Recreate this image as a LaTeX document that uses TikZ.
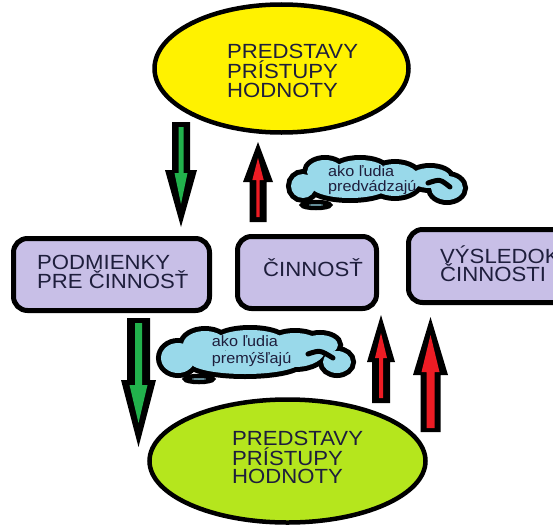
\documentclass[tikz,border=0pt]{standalone}
\usepackage{fontspec}
\setmainfont{Liberation Sans}
\newfontfamily\widesans[FakeStretch=1.08]{Liberation Sans}
\usetikzlibrary{shapes.geometric}

\definecolor{yel}{HTML}{FFF200}
\definecolor{lime}{HTML}{B5E61D}
\definecolor{lav}{HTML}{C8BFE7}
\definecolor{sky}{HTML}{99D9EA}
\definecolor{grn}{HTML}{22B14C}
\definecolor{rd}{HTML}{ED1C24}
\definecolor{ink}{HTML}{1E1E3C}

% block arrow: [style]{centre x}{tail y}{head base y}{tip y}{shaft half width}{head half width}
\newcommand{\barrow}[7][]{%
  \fill[#1] (#2-#6,#3) -- (#2+#6,#3) -- (#2+#6,#4) -- (#2+#7,#4) -- (#2,#5)
    -- (#2-#7,#4) -- (#2-#6,#4) -- cycle;}

\tikzset{
  ideabox/.style={ellipse, draw=black, line width=4.5pt, inner sep=0pt},
  stagebox/.style={rectangle, rounded corners=14pt, draw=black, line width=5pt,
    fill=lav, inner sep=0pt},
  bigtxt/.style={anchor=base west, inner sep=0pt, text height=14pt, text depth=1pt,
    font=\widesans\fontsize{20.5}{20}\selectfont, text=ink},
  smalltxt/.style={anchor=base west, inner sep=0pt, text height=10pt, text depth=2pt,
    font=\widesans\fontsize{15}{16}\selectfont, text=ink},
  lobeline/.style={draw=black, line width=10pt},
}

\begin{document}
\begin{tikzpicture}[x=1pt,y=-1pt]
\useasboundingbox (0,0) rectangle (553,527);
\fill[white] (0,0) rectangle (553,527);
\clip (0,0) rectangle (553,527);

% the two ellipses
\node[ideabox, fill=yel, minimum width=254pt, minimum height=128pt] (topIdeas) at (281.5,68.5) {};
\node[ideabox, fill=lime, minimum width=276pt, minimum height=123pt] (botIdeas) at (287.5,461) {};

\node[bigtxt] (topA) at (227,58.3) {PREDSTAVY};
\node[bigtxt] (topB) at (227,78.3) {PRÍSTUPY};
\node[bigtxt] (topC) at (227,97) {HODNOTY};

\node[bigtxt] (botA) at (232,445) {PREDSTAVY};
\node[bigtxt] (botB) at (232,465) {PRÍSTUPY};
\node[bigtxt] (botC) at (232,483.5) {HODNOTY};

% the three stage boxes
\node[stagebox, minimum width=196pt, minimum height=72pt] (cond) at (111.5,274.5) {};
\node[stagebox, minimum width=139pt, minimum height=72pt] (act) at (307,272.5) {};
\node[stagebox, minimum width=169pt, minimum height=73pt] (res) at (493,266) {};

\node[bigtxt] (condA) at (37,269.4) {PODMIENKY};
\node[bigtxt] (condB) at (37,288.8) {PRE ČINNOSŤ};
\node[bigtxt] (actA) at (263,276.4) {ČINNOSŤ};
\node[bigtxt] (resA) at (440,263) {VÝSLEDOK};
\node[bigtxt] (resB) at (440,281.5) {ČINNOSTI};

% block arrows: black body with a coloured core
\barrow[black]{181}{122}{170}{227}{9}{16}
\barrow[grn]{181}{127}{173}{204}{2.5}{6.5}

\barrow[black]{258}{222}{182}{142}{8.5}{15}
\barrow[rd]{258}{217}{180}{158}{1.7}{5.7}

\barrow[black]{138.5}{318}{380}{447}{11.5}{17.5}
\barrow[grn]{138.5}{323}{385}{423}{3.5}{9}

\barrow[black]{381}{403}{362}{315}{9}{14}
\barrow[rd]{381}{398}{358}{333}{2}{6}

\barrow[black]{430.5}{432}{375}{317}{10}{17.5}
\barrow[rd]{430.5}{428}{372}{335}{4}{9}

% upper thought cloud: outlined lobes, then their filling on top
\foreach \cx/\cy/\rx/\ry in {303/186/12/12, 325/172/18/12, 360/170/25/10, 350/185/40/13,
    395/180/25/16, 430/178/20/10, 447/188/16/12}
  \path[lobeline] (\cx,\cy) ellipse [x radius=\rx, y radius=\ry];
\draw[line width=4.5pt, fill=sky] (316,205) ellipse [x radius=14, y radius=3];
\foreach \cx/\cy/\rx/\ry in {303/186/12/12, 325/172/18/12, 360/170/25/10, 350/185/40/13,
    395/180/25/16, 430/178/20/10, 447/188/16/12}
  \fill[sky] (\cx,\cy) ellipse [x radius=\rx, y radius=\ry];
\draw[line width=5pt, line cap=round] (428,183) .. controls (440,179) .. (450,187);

% lower thought cloud
\foreach \cx/\cy/\rx/\ry in {178/358/17/15, 205/345/22/14, 250/342/35/12, 245/362/55/12,
    295/350/30/17, 320/345/18/10, 337/362/14/11}
  \path[lobeline] (\cx,\cy) ellipse [x radius=\rx, y radius=\ry];
\draw[line width=4.5pt, fill=sky] (199,379) ellipse [x radius=14, y radius=3];
\foreach \cx/\cy/\rx/\ry in {178/358/17/15, 205/345/22/14, 250/342/35/12, 245/362/55/12,
    295/350/30/17, 320/345/18/10, 337/362/14/11}
  \fill[sky] (\cx,\cy) ellipse [x radius=\rx, y radius=\ry];
\draw[line width=5pt, line cap=round] (308,354) .. controls (320,350) .. (333,358);

\node[smalltxt] (upA) at (328,176.7) {ako ľudia};
\node[smalltxt] (upB) at (328,191.7) {predvádzajú};
\node[smalltxt] (lowA) at (211.7,346.7) {ako ľudia};
\node[smalltxt] (lowB) at (211.7,363.3) {premýšľajú};
\end{tikzpicture}
\end{document}
